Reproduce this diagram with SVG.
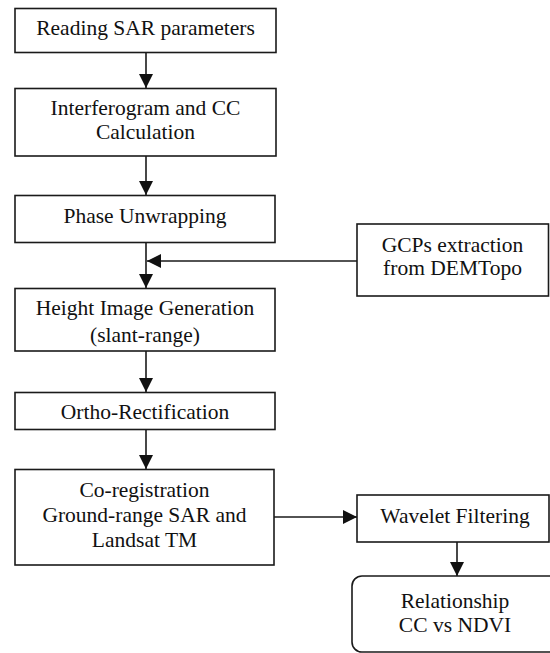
<svg xmlns="http://www.w3.org/2000/svg" width="550" height="653" viewBox="0 0 550 653">
<style>
.box{fill:#fff;stroke:#1a1a1a;stroke-width:1.6}
.t{font-family:"Liberation Serif","Times New Roman",serif;font-size:21.5px;fill:#111;text-anchor:middle}
.c{fill:none;stroke:#1a1a1a;stroke-width:1.6}
</style>
<defs>
<marker id="ah" markerUnits="userSpaceOnUse" markerWidth="16" markerHeight="16" viewBox="0 0 16 16" refX="14" refY="8" orient="auto">
<path d="M0,1 L14,8 L0,15 Z" fill="#111"/>
</marker>
</defs>
<rect width="550" height="653" fill="#fff"/>
<g id="connectors">
<line class="c" x1="146" y1="52" x2="146" y2="88" marker-end="url(#ah)"/>
<line class="c" x1="146" y1="156" x2="146" y2="195" marker-end="url(#ah)"/>
<line class="c" x1="146" y1="242" x2="146" y2="288" marker-end="url(#ah)"/>
<line class="c" x1="357" y1="261" x2="147" y2="261" marker-end="url(#ah)"/>
<line class="c" x1="146" y1="351" x2="146" y2="392" marker-end="url(#ah)"/>
<line class="c" x1="146" y1="429" x2="146" y2="469" marker-end="url(#ah)"/>
<line class="c" x1="274" y1="517" x2="357" y2="517" marker-end="url(#ah)"/>
<line class="c" x1="457" y1="542" x2="457" y2="576" marker-end="url(#ah)"/>
</g>
<g id="n1"><rect class="box" x="15" y="8.5" width="261" height="44"/><text class="t" x="145.5" y="35">Reading SAR parameters</text></g>
<g id="n2"><rect class="box" x="15" y="88.5" width="261" height="67.5"/><text class="t" x="145.5" y="115">Interferogram and CC</text><text class="t" x="145.5" y="139">Calculation</text></g>
<g id="n3"><rect class="box" x="15" y="195.5" width="260" height="47"/><text class="t" x="145" y="223">Phase Unwrapping</text></g>
<g id="n4"><rect class="box" x="357" y="224" width="191.5" height="72"/><text class="t" x="452.5" y="252">GCPs extraction</text><text class="t" x="452.5" y="275">from DEMTopo</text></g>
<g id="n5"><rect class="box" x="15" y="288.5" width="260" height="62.5"/><text class="t" x="145" y="315">Height Image Generation</text><text class="t" x="145" y="341.5">(slant-range)</text></g>
<g id="n6"><rect class="box" x="15" y="392.5" width="260" height="37"/><text class="t" x="145" y="419">Ortho-Rectification</text></g>
<g id="n7"><rect class="box" x="15" y="469.5" width="259" height="95.5"/><text class="t" x="144.5" y="497">Co-registration</text><text class="t" x="144.5" y="522">Ground-range SAR and</text><text class="t" x="144.5" y="547">Landsat TM</text></g>
<g id="n8"><rect class="box" x="357" y="495" width="192" height="47"/><text class="t" x="455" y="523">Wavelet Filtering</text></g>
<g id="n9"><rect class="box" x="352" y="576" width="210" height="76" rx="10" ry="10"/><text class="t" x="455" y="608">Relationship</text><text class="t" x="455" y="632">CC vs NDVI</text></g>
</svg>
